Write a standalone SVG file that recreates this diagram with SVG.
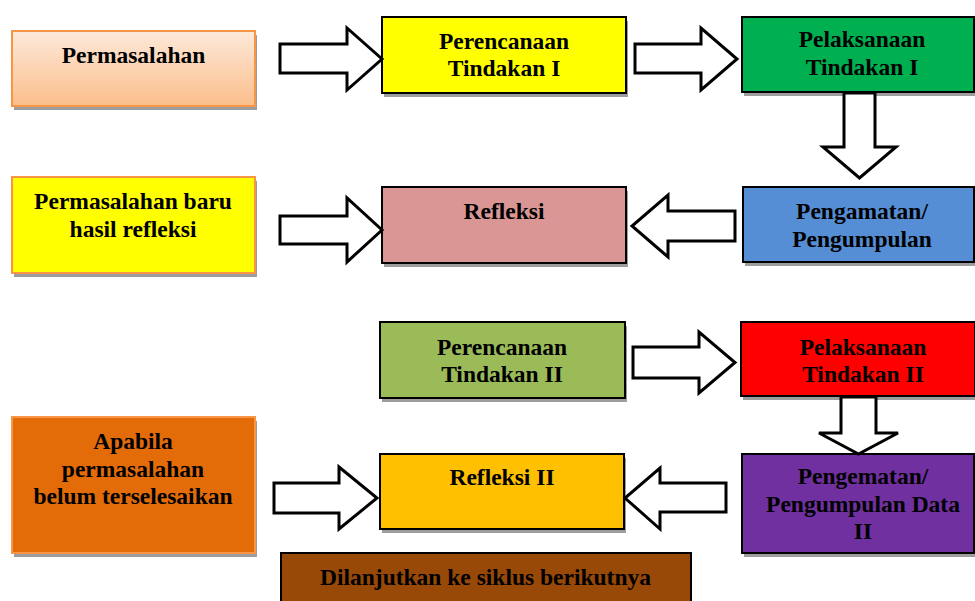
<svg xmlns="http://www.w3.org/2000/svg" width="975" height="601" viewBox="0 0 975 601">
<defs>
<linearGradient id="peach" x1="0" y1="0" x2="0" y2="1">
<stop offset="0" stop-color="#FDE9D9"/>
<stop offset="1" stop-color="#FBBE8C"/>
</linearGradient>
</defs>
<style>
.sh{fill:#9d9d9d}
.bx{stroke:#000;stroke-width:2}
.ob{stroke:#F79646;stroke-width:2}
.ar{fill:#fff;stroke:#000;stroke-width:3;stroke-linejoin:miter}
text{font-family:"Liberation Serif","Times New Roman",serif;font-weight:bold;font-size:23.5px;fill:#000;text-anchor:middle}
</style>
<rect width="975" height="601" fill="#fff"/>

<g id="permasalahan">
<rect class="sh" x="14" y="35" width="243" height="75"/>
<rect class="ob" x="12" y="31" width="243" height="75" fill="url(#peach)"/>
<text x="133.5" y="63">Permasalahan</text>
</g>

<g id="perencanaan1">
<rect class="sh" x="384" y="21" width="244" height="76"/>
<rect class="bx" x="382" y="17" width="244" height="76" fill="#FFFF00"/>
<text x="504" y="49">Perencanaan</text>
<text x="504" y="76">Tindakan I</text>
</g>

<g id="pelaksanaan1">
<rect class="sh" x="744" y="21" width="232" height="75"/>
<rect class="bx" x="742" y="17" width="232" height="75" fill="#00B050"/>
<text x="862" y="47">Pelaksanaan</text>
<text x="862" y="75">Tindakan I</text>
</g>

<g id="permasalahanbaru">
<rect class="sh" x="14" y="181" width="243" height="96"/>
<rect class="ob" x="12" y="177" width="243" height="96" fill="#FFFF00"/>
<text x="133" y="209">Permasalahan baru</text>
<text x="133" y="236.5">hasil refleksi</text>
</g>

<g id="refleksi">
<rect class="sh" x="384" y="191" width="244" height="76"/>
<rect class="bx" x="382" y="187" width="244" height="76" fill="#D99694"/>
<text x="504" y="219">Refleksi</text>
</g>

<g id="pengamatan">
<rect class="sh" x="745" y="191" width="231" height="75"/>
<rect class="bx" x="743" y="187" width="231" height="75" fill="#558ED5"/>
<text x="862" y="219">Pengamatan/</text>
<text x="862" y="246.5">Pengumpulan</text>
</g>

<g id="perencanaan2">
<rect class="sh" x="382" y="326" width="245" height="76"/>
<rect class="bx" x="380" y="322" width="245" height="76" fill="#9BBB59"/>
<text x="502" y="355">Perencanaan</text>
<text x="502" y="382">Tindakan II</text>
</g>

<g id="pelaksanaan2">
<rect class="sh" x="743" y="326" width="234" height="74"/>
<rect class="bx" x="741" y="322" width="234" height="74" fill="#FF0000"/>
<text x="863" y="355">Pelaksanaan</text>
<text x="863" y="382">Tindakan II</text>
</g>

<g id="apabila">
<rect class="sh" x="14" y="421" width="243" height="136"/>
<rect class="ob" x="12" y="417" width="243" height="136" fill="#E36C09"/>
<text x="133" y="449">Apabila</text>
<text x="133" y="476.5">permasalahan</text>
<text x="133" y="504">belum terselesaikan</text>
</g>

<g id="refleksi2">
<rect class="sh" x="382" y="458" width="244" height="75"/>
<rect class="bx" x="380" y="454" width="244" height="75" fill="#FFC000"/>
<text x="502" y="485">Refleksi II</text>
</g>

<g id="pengematan2">
<rect class="sh" x="744" y="458" width="232" height="99"/>
<rect class="bx" x="742" y="454" width="232" height="99" fill="#7030A0"/>
<text x="863" y="484">Pengematan/</text>
<text x="863" y="511.5">Pengumpulan Data</text>
<text x="863" y="539">II</text>
</g>

<g id="dilanjutkan">
<rect class="bx" x="281" y="553" width="410" height="60" fill="#984807"/>
<text x="485.5" y="585">Dilanjutkan ke siklus berikutnya</text>
</g>

<g id="connectors">
<polygon class="ar" points="280,44 347,44 347,28 382,59 347,90 347,73 280,73"/>
<polygon class="ar" points="635,44 701,44 701,28 737,59 701,90 701,73 635,73"/>
<polygon class="ar" points="844,93 875,93 875,147 896,147 859.5,178 823,147 844,147"/>
<polygon class="ar" points="280,216 347,216 347,198 382,230 347,262 347,244 280,244"/>
<polygon class="ar" points="735,211 668,211 668,195 632,226 668,257 668,241 735,241"/>
<polygon class="ar" points="633,347 699,347 699,332 735,362.5 699,393 699,378 633,378"/>
<polygon class="ar" points="841,397 876,397 876,433 898,433 858.5,454 819,433 841,433"/>
<polygon class="ar" points="274,483 339,483 339,467 377,498 339,529 339,513 274,513"/>
<polygon class="ar" points="726,483 660,483 660,468 625,498 660,529 660,512 726,512"/>
</g>
</svg>
